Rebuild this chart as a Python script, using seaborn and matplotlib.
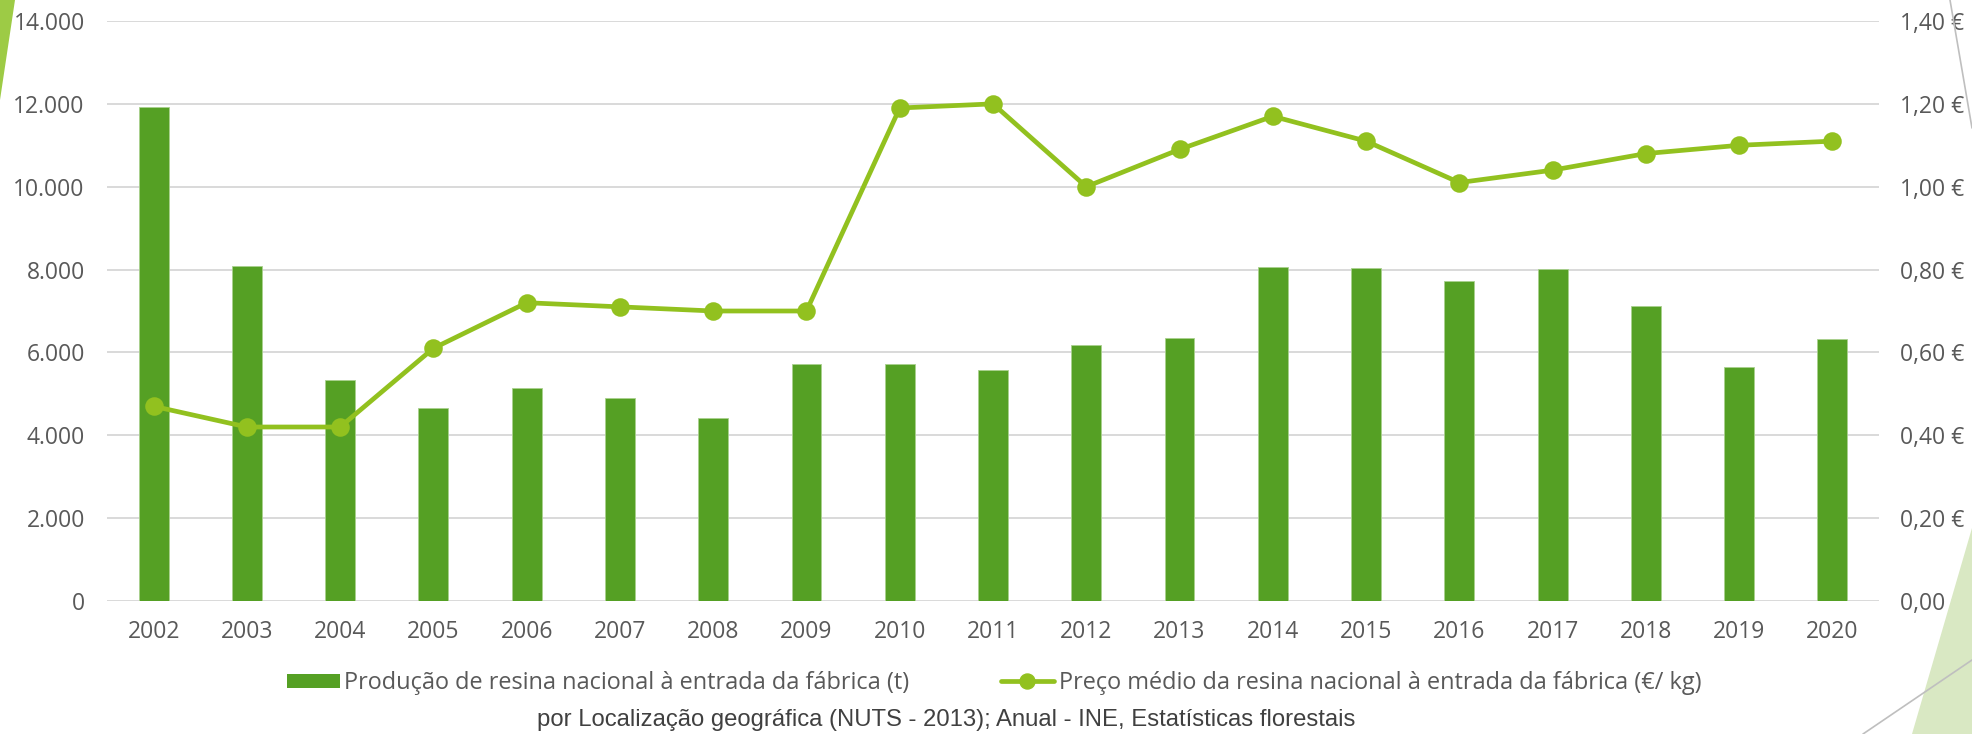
import numpy as np
import pandas as pd
import matplotlib
matplotlib.use("Agg")
import matplotlib.pyplot as plt
import seaborn as sns
from matplotlib import font_manager
from matplotlib.patches import Patch, Polygon
from matplotlib.lines import Line2D
from matplotlib.ticker import FuncFormatter, MultipleLocator

# ---- data ----
years = ["2002", "2003", "2004", "2005", "2006", "2007", "2008", "2009", "2010", "2011",
         "2012", "2013", "2014", "2015", "2016", "2017", "2018", "2019", "2020"]
producao_t = [11920, 8090, 5330, 4650, 5150, 4890, 4410, 5710, 5710, 5580,
              6180, 6360, 8060, 8030, 7720, 8010, 7130, 5640, 6320]
preco_eur_kg = [0.47, 0.42, 0.42, 0.61, 0.72, 0.71, 0.70, 0.70, 1.19, 1.20,
                1.00, 1.09, 1.17, 1.11, 1.01, 1.04, 1.08, 1.10, 1.11]
label_bar = "Produção de resina nacional à entrada da fábrica (t)"
label_line = "Preço médio da resina nacional à entrada da fábrica (€/ kg)"
source_text = "por Localização geográfica (NUTS - 2013); Anual - INE, Estatísticas florestais"

df = pd.DataFrame({"ano": years, "producao": producao_t, "preco": preco_eur_kg})

BAR_C = "#55A024"
LINE_C = "#92C11F"
TXT_C = "#595959"
GRID_C = "#D9D9D9"

sns.set_style("white")

# pick a narrow humanist font (Tahoma-like)
names = {f.name for f in font_manager.fontManager.ttflist}
if "DejaVu Sans Condensed" in names:
    plt.rcParams["font.stretch"] = "condensed"
    plt.rcParams["font.family"] = ["DejaVu Sans"]
else:
    plt.rcParams["font.family"] = ["Open Sans", "DejaVu Sans"]

W, H = 1972, 734
fig = plt.figure(figsize=(W / 100, H / 100), dpi=100)
ax = fig.add_axes([107 / W, 1 - 601 / H, (1879 - 107) / W, (601 - 21) / H])

sns.barplot(data=df, x="ano", y="producao", color=BAR_C, width=0.32, ax=ax,
            saturation=1, edgecolor="#A9D18E", linewidth=0.6, zorder=2)
ax.set_ylim(0, 14000)
ax.yaxis.set_major_locator(MultipleLocator(2000))
ax.yaxis.set_major_formatter(FuncFormatter(lambda v, p: f"{v:,.0f}".replace(",", ".")))
ax.grid(axis="y", color=GRID_C, linewidth=1.4, zorder=0)
ax.grid(axis="x", visible=False)
ax.set_axisbelow(True)
ax.set_xlabel("")
ax.set_ylabel("")
for s in ax.spines.values():
    s.set_visible(False)
ax.tick_params(axis="both", length=0, labelsize=16.5, colors=TXT_C)
ax.tick_params(axis="y", pad=16)
ax.tick_params(axis="x", pad=14)

ax2 = ax.twinx()
sns.pointplot(data=df, x="ano", y="preco", color=LINE_C, markers="o", linestyles="-",
              errorbar=None, ax=ax2, markersize=10.8, linewidth=3.4)
ax2.set_ylim(0, 1.4)
ax2.yaxis.set_major_locator(MultipleLocator(0.2))
ax2.yaxis.set_major_formatter(FuncFormatter(lambda v, p: f"{v:.2f}".replace(".", ",") + " €"))
ax2.grid(False)
ax2.set_xlabel("")
ax2.set_ylabel("")
for s in ax2.spines.values():
    s.set_visible(False)
ax2.tick_params(axis="both", length=0, labelsize=16.5, colors=TXT_C)
ax2.tick_params(axis="y", pad=15)
ax.set_xlim(-0.5, len(years) - 0.5)

handles = [Patch(facecolor=BAR_C, edgecolor="none", label=label_bar),
           Line2D([0], [0], color=LINE_C, lw=3.4, marker="o", markersize=10.8, label=label_line)]
leg = fig.legend(handles=handles, loc="center", bbox_to_anchor=(994 / W, 1 - 683 / H), ncol=2,
                 frameon=False, fontsize=16.9, handlelength=2.25, handleheight=0.55,
                 handletextpad=0.2, columnspacing=3.9)
for t in leg.get_texts():
    t.set_color(TXT_C)

fig.text(946 / W, 1 - 720 / H, source_text, ha="center", va="center", fontsize=17.2,
         color="#404040", family=["Liberation Sans", "DejaVu Sans"], stretch="normal")

# slide decorations
def P(pts, **kw):
    fig.patches.append(Polygon([(x / W, 1 - y / H) for x, y in pts], closed=True,
                               transform=fig.transFigure, **kw))

P([(0, 0), (15, 0), (0, 100)], facecolor="#9DCB45", edgecolor="none")
P([(1912, 734), (1972, 528), (1972, 734)], facecolor="#D9E8C3", edgecolor="none")
fig.add_artist(Line2D([1950 / W, 1972 / W], [1, 1 - 128 / H], transform=fig.transFigure,
                      color="#BFBFBF", lw=1.2))
fig.add_artist(Line2D([1863 / W, 1972 / W], [0, 1 - 660 / H], transform=fig.transFigure,
                      color="#BFBFBF", lw=1.2))

fig.savefig("out.png", dpi=100)
